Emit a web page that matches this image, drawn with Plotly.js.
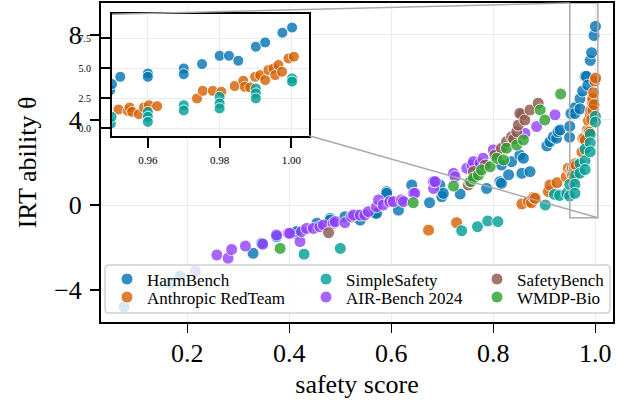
<!DOCTYPE html>
<html><head><meta charset="utf-8">
<script src="https://cdn.plot.ly/plotly-3.0.1.min.js"></script>
<style>html,body{margin:0;padding:0;background:#fff;} #chart{width:624px;height:406px;}</style>
</head><body><div id="chart"></div>
<script>
// ---------------- data ----------------
const seriesNames = ['HarmBench','Anthropic RedTeam','SimpleSafety','AIR-Bench 2024','SafetyBench','WMDP-Bio'];
const seriesColors = ['#0173B2','#D55E00','#009E96','#9040FF','#8C564B','#2CA02C'];

const harmX = [0.076,0.167,0.186,0.329,0.346,0.375,0.411,0.414,0.454,0.48,0.48,0.509,0.535,0.539,0.568,0.571,0.591,0.591,0.614,0.64,0.675,0.683,0.695,0.699,0.702,0.735,0.787,0.813,0.816,0.816,0.83,0.836,0.852,0.856,0.859,0.872,0.905,0.911,0.918,0.924,0.927,0.931,0.9495,0.950,0.9523,0.96,0.96,0.97,0.97,0.9751,0.98,0.9826,0.9852,0.9901,0.9927,0.9975,1.0002];
const harmY = [-4.8,-3.66,-3.34,-2.27,-1.8,-1.49,-1.33,-1.25,-0.86,-0.63,-0.71,-0.55,-0.47,-0.71,-0.39,-0.39,0.63,0.55,-0.24,0.94,0.11,1.1,0.94,0.39,0.55,0.52,0.78,1.1,1.02,1.88,1.42,2.04,2.35,1.49,2.2,1.57,2.78,2.98,3.21,3.14,3.45,3.53,3.19,3.7,4.3,4.58,4.3,5.0,4.52,5.36,6.05,6.05,5.64,6.8,7.16,7.97,8.4];

const anthX = [0.673,0.728,0.856,0.869,0.875,0.879,0.882,0.908,0.911,0.925,0.943,0.947,0.9518,0.9544,0.9549,0.9556,0.9575,0.9589,0.9603,0.9626,0.9737,0.9753,0.9781,0.9805,0.9842,0.9866,0.987,0.9885,0.9899,0.9913,0.9927,0.9936,0.995,0.9955,0.9964,0.9974,0.9992,1.0007];
const anthY = [-1.18,-0.83,0.05,0.16,0.11,0.36,0.31,0.63,0.94,1.05,1.33,1.73,1.58,1.47,1.75,1.38,1.19,1.75,1.94,1.86,2.5,3.13,3.13,3.05,3.53,3.97,3.47,3.42,4.3,4.44,4.03,4.86,5.0,4.44,5.28,4.72,5.83,5.97];

const simpX = [0.429,0.5,0.738,0.769,0.789,0.809,0.902,0.92,0.93,0.944,0.9497,0.9499,0.96,0.96,0.96,0.97,0.97,0.98,0.98,0.98,0.9901,0.9901,0.9901,1.0002,1.0002];
const simpY = [-2.31,-2.04,-1.21,-1.02,-0.75,-0.78,0.0,0.5,0.45,0.55,0.42,0.97,1.38,0.97,0.55,1.94,1.5,2.63,2.08,1.67,3.33,2.92,2.5,4.17,3.9];

const airX = [0.216,0.258,0.28,0.287,0.314,0.348,0.375,0.398,0.401,0.421,0.424,0.434,0.447,0.46,0.467,0.486,0.49,0.509,0.522,0.526,0.539,0.548,0.555,0.571,0.575,0.584,0.597,0.604,0.62,0.624,0.643,0.646,0.683,0.683,0.686,0.722,0.725,0.748,0.758,0.761,0.774,0.78,0.8,0.862,0.885,0.921];
const airY = [-3.1,-2.35,-2.5,-2.09,-1.93,-1.84,-1.41,-1.33,-1.33,-1.72,-1.25,-1.1,-1.1,-1.02,-0.94,-0.86,-0.78,-0.83,-0.55,-0.47,-0.47,-0.47,-0.31,-0.08,0.24,0.0,0.16,0.16,0.24,0.16,0.55,0.55,0.78,1.1,1.1,1.49,1.33,1.73,1.88,2.04,1.96,2.2,2.59,3.37,3.69,4.24];

const safeX = [0.477,0.751,0.754,0.761,0.784,0.803,0.816,0.826,0.836,0.84,0.846,0.849,0.856,0.852,0.862,0.872,0.888];
const safeY = [-1.3,0.94,1.1,1.57,1.88,2.35,2.67,2.98,3.21,3.1,3.45,3.76,4.24,4.31,4.0,4.47,4.79];

const wmdpX = [0.382,0.643,0.722,0.756,0.761,0.771,0.777,0.794,0.807,0.82,0.826,0.846,0.859,0.892,0.901,0.932];
const wmdpY = [-2.04,0.11,0.89,1.1,1.26,1.41,1.65,1.8,2.2,2.12,2.67,2.82,3.06,4.47,4.0,5.22];

const xTickVals = [0.2,0.4,0.6,0.8,1.0];
const xTickText = ['0.2','0.4','0.6','0.8','1.0'];
const yTickVals = [-4,0,4,8];
const yTickText = ['\u22124','0','4','8'];
const insetXTickVals = [0.96,0.98,1.00];
const insetXTickText = ['0.96','0.98','1.00'];
const insetYTickVals = [0,2.5,5,7.5];
const insetYTickText = ['0.0','2.5','5.0','7.5'];

const mainXRange = [0.0308,1.0347];
const mainYRange = [-5.5,9.5];
const insetXRange = [0.95,1.005];
const insetYRange = [-0.6,9.5];

// ---------------- figure ----------------
const FONT = 'Liberation Serif, Times New Roman, serif';
const W = 624, H = 406;
const M = {l:101, r:11, t:3, b:84};
const PW = W - M.l - M.r, PH = H - M.t - M.b;
const px2x = p => (p - M.l) / PW;
const py2y = p => (H - M.b - p) / PH;

const seriesX = [harmX, anthX, simpX, airX, safeX, wmdpX];
const seriesY = [harmY, anthY, simpY, airY, safeY, wmdpY];

const traces = [];
seriesNames.forEach((name, i) => {
  const mk = {size: 12, color: seriesColors[i], opacity: 0.8, line: {color: 'white', width: 1}};
  traces.push({type:'scatter', mode:'markers', name:name, x:seriesX[i], y:seriesY[i],
    xaxis:'x', yaxis:'y', marker:mk, legend: i === 0 ? 'legend' : 'legend' + (i+1), showlegend:true});
});
seriesNames.forEach((name, i) => {
  const mk = {size: 11, color: seriesColors[i], opacity: 0.8, line: {color: 'white', width: 1}};
  traces.push({type:'scatter', mode:'markers', name:name, x:seriesX[i], y:seriesY[i],
    xaxis:'x2', yaxis:'y2', marker:mk, showlegend:false});
});

// inset placement (pixels)
const inset = {x0:112, x1:309.3, y0:14.3, y1:135.7};
const insetDomX = [px2x(inset.x0), px2x(inset.x1)];
const insetDomY = [py2y(inset.y1), py2y(inset.y0)];

const xr2p = v => (v - mainXRange[0]) / (mainXRange[1] - mainXRange[0]);
const yr2p = v => (v - mainYRange[0]) / (mainYRange[1] - mainYRange[0]);

// legend layout: column marker centers & row centres (pixels)
const legColPx = [127, 326, 497];
const legRowPx = [279.5, 297.5];
const legends = {};
seriesNames.forEach((n, i) => {
  const col = Math.floor(i/2), row = i % 2;
  const key = i === 0 ? 'legend' : 'legend' + (i+1);
  legends[key] = {
    x: px2x(legColPx[col] - 20), xanchor:'left', xref:'paper',
    y: py2y(legRowPx[row]), yanchor:'middle', yref:'paper',
    bgcolor:'rgba(0,0,0,0)', borderwidth:0, itemsizing:'trace',
    font:{family:FONT, size:17, color:'#000'}, tracegroupgap:0
  };
});

// legend frame (rounded rect) in paper coords
const lb = {x0:105, x1:610, y0:265, y1:313, r:4};
function rr(b){
  const X = px2x, Y = py2y;
  return `M ${X(b.x0+b.r)},${Y(b.y0)} L ${X(b.x1-b.r)},${Y(b.y0)} Q ${X(b.x1)},${Y(b.y0)} ${X(b.x1)},${Y(b.y0+b.r)} ` +
         `L ${X(b.x1)},${Y(b.y1-b.r)} Q ${X(b.x1)},${Y(b.y1)} ${X(b.x1-b.r)},${Y(b.y1)} ` +
         `L ${X(b.x0+b.r)},${Y(b.y1)} Q ${X(b.x0)},${Y(b.y1)} ${X(b.x0)},${Y(b.y1-b.r)} ` +
         `L ${X(b.x0)},${Y(b.y0+b.r)} Q ${X(b.x0)},${Y(b.y0)} ${X(b.x0+b.r)},${Y(b.y0)} Z`;
}

const shapes = [
  {type:'rect', xref:'x', yref:'y', x0:insetXRange[0], x1:insetXRange[1], y0:insetYRange[0], y1:insetYRange[1],
   line:{color:'#aaaaaa', width:1.5}, fillcolor:'rgba(0,0,0,0)', layer:'above'},
  {type:'line', xref:'paper', yref:'paper', x0:insetDomX[0], y0:insetDomY[1], x1:xr2p(insetXRange[0]), y1:yr2p(insetYRange[1]),
   line:{color:'#aaaaaa', width:1.5}, layer:'above'},
  {type:'line', xref:'paper', yref:'paper', x0:insetDomX[1], y0:insetDomY[0], x1:xr2p(insetXRange[1]), y1:yr2p(insetYRange[0]),
   line:{color:'#aaaaaa', width:1.5}, layer:'above'},
  {type:'path', xref:'paper', yref:'paper', path: rr(lb), fillcolor:'rgba(255,255,255,0.8)',
   line:{color:'rgba(204,204,204,0.9)', width:1.5}, layer:'above'}
];

const axisCommon = {showline:true, linecolor:'#000', linewidth:2, mirror:true, ticks:'outside',
  tickcolor:'#000', showgrid:true, gridcolor:'#ebebeb', gridwidth:1, zeroline:false, fixedrange:true};

const layout = Object.assign({
  width:W, height:H, margin:M, paper_bgcolor:'#fff', plot_bgcolor:'#fff',
  font:{family:FONT, color:'#000'}, hovermode:false, showlegend:true,
  xaxis: Object.assign({}, axisCommon, {domain:[0,1], anchor:'y', range:mainXRange, tickmode:'array',
    tickvals:xTickVals, ticktext:xTickText, ticklen:9, tickwidth:1.5, tickfont:{family:FONT, size:26},
    ticklabelstandoff:-2,
    title:{text:'safety score', font:{family:FONT, size:26}, standoff:8}}),
  yaxis: Object.assign({}, axisCommon, {domain:[0,1], anchor:'x', range:mainYRange, tickmode:'array',
    tickvals:yTickVals, ticktext:yTickText, ticklen:9, tickwidth:1.5, tickfont:{family:FONT, size:26},
    ticklabelstandoff:3,
    title:{text:'IRT ability \u03b8', font:{family:FONT, size:26}, standoff:10}}),
  xaxis2: Object.assign({}, axisCommon, {domain:insetDomX, anchor:'y2', range:insetXRange, tickmode:'array',
    tickvals:insetXTickVals, ticktext:insetXTickText, ticklen:10, tickwidth:2, tickfont:{family:FONT, size:11},
    ticklabelstandoff:3}),
  yaxis2: Object.assign({}, axisCommon, {domain:insetDomY, anchor:'x2', range:insetYRange, tickmode:'array',
    tickvals:insetYTickVals, ticktext:insetYTickText, ticklen:10, tickwidth:2, tickfont:{family:FONT, size:10},
    ticklabelstandoff:7}),
  shapes: shapes
}, legends);

Plotly.newPlot('chart', traces, layout, {displayModeBar:false, staticPlot:true});
</script>
</body></html>
